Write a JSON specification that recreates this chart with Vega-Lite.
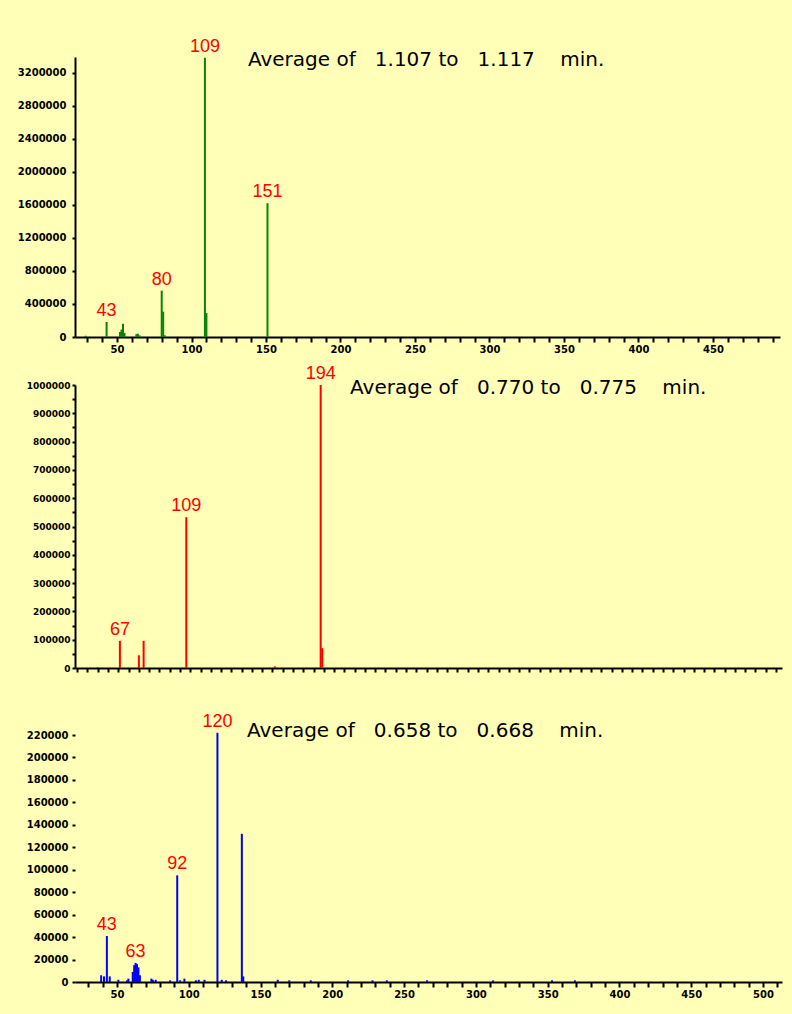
{
  "$schema": "https://vega.github.io/schema/vega-lite/v6.json",
  "background": "#FFFFB8",
  "padding": {"left": 17, "top": 37, "right": 10, "bottom": 15},
  "datasets": {
    "p1": [
      {"mz": 29, "intensity": 15000},
      {"mz": 43, "intensity": 182000, "lbl": "43"},
      {"mz": 52, "intensity": 60000},
      {"mz": 53, "intensity": 90000},
      {"mz": 54, "intensity": 160000},
      {"mz": 55, "intensity": 50000},
      {"mz": 63, "intensity": 35000},
      {"mz": 64, "intensity": 40000},
      {"mz": 65, "intensity": 20000},
      {"mz": 80, "intensity": 561000, "lbl": "80"},
      {"mz": 81, "intensity": 307000},
      {"mz": 82, "intensity": 20000},
      {"mz": 109, "intensity": 3380000, "lbl": "109"},
      {"mz": 110, "intensity": 290000},
      {"mz": 151, "intensity": 1620000, "lbl": "151"}
    ],
    "n1": [{"mz": 137.9, "intensity": 3357000, "text": "Average of \u00a0\u00a01.107 to \u00a0\u00a01.117 \u00a0\u00a0\u00a0min."}],
    "p2": [
      {"mz": 53, "intensity": 3000},
      {"mz": 67, "intensity": 96000, "lbl": "67"},
      {"mz": 79, "intensity": 45000},
      {"mz": 82, "intensity": 96000},
      {"mz": 109, "intensity": 533000, "lbl": "109"},
      {"mz": 165, "intensity": 6000},
      {"mz": 194, "intensity": 1000000, "lbl": "194"},
      {"mz": 195, "intensity": 70000}
    ],
    "n2": [{"mz": 212.6, "intensity": 989000, "text": "Average of \u00a0\u00a00.770 to \u00a0\u00a00.775 \u00a0\u00a0\u00a0min."}],
    "p3": [
      {"mz": 39, "intensity": 6000},
      {"mz": 41, "intensity": 5000},
      {"mz": 43, "intensity": 41000, "lbl": "43"},
      {"mz": 45, "intensity": 5000},
      {"mz": 51, "intensity": 2000},
      {"mz": 57, "intensity": 1500},
      {"mz": 58, "intensity": 3000},
      {"mz": 61, "intensity": 9000},
      {"mz": 62, "intensity": 15000},
      {"mz": 63, "intensity": 17000, "lbl": "63"},
      {"mz": 64, "intensity": 16000},
      {"mz": 65, "intensity": 13000},
      {"mz": 66, "intensity": 6000},
      {"mz": 74, "intensity": 3000},
      {"mz": 75, "intensity": 2000},
      {"mz": 77, "intensity": 2000},
      {"mz": 87, "intensity": 1500},
      {"mz": 92, "intensity": 95000, "lbl": "92"},
      {"mz": 94, "intensity": 1500},
      {"mz": 97, "intensity": 3000},
      {"mz": 105, "intensity": 1500},
      {"mz": 107, "intensity": 2000},
      {"mz": 111, "intensity": 2000},
      {"mz": 120, "intensity": 222000, "lbl": "120"},
      {"mz": 123, "intensity": 2000},
      {"mz": 126, "intensity": 1500},
      {"mz": 137, "intensity": 132000},
      {"mz": 138, "intensity": 5000},
      {"mz": 162, "intensity": 2000},
      {"mz": 170, "intensity": 1500},
      {"mz": 185, "intensity": 1500},
      {"mz": 211, "intensity": 1500},
      {"mz": 228, "intensity": 1500},
      {"mz": 238, "intensity": 1500},
      {"mz": 266, "intensity": 1500},
      {"mz": 312, "intensity": 1500},
      {"mz": 353, "intensity": 1500},
      {"mz": 369, "intensity": 1500}
    ],
    "n3": [{"mz": 140.6, "intensity": 223600, "text": "Average of \u00a0\u00a00.658 to \u00a0\u00a00.668 \u00a0\u00a0\u00a0min."}]
  },
  "vconcat": [
    {
      "width": 705,
      "height": 280,
      "encoding": {
        "x": {"field": "mz", "type": "quantitative",
          "scale": {"domain": [21.8, 495], "nice": false, "zero": false},
          "axis": {"title": null, "values": [30,40,50,60,70,80,90,100,110,120,130,140,150,160,170,180,190,200,210,220,230,240,250,260,270,280,290,300,310,320,330,340,350,360,370,380,390,400,410,420,430,440,450,460,470,480,490],
            "labelExpr": "datum.value % 50 === 0 ? datum.label : ''", "format": "d", "tickSize": 5, "labelPadding": 2, "labelFontSize": 10, "labelOverlap": false, "labelFlush": false}},
        "y": {"field": "intensity", "type": "quantitative",
          "scale": {"domain": [0, 3390000], "nice": false, "zero": true},
          "axis": {"title": null, "values": [0,400000,800000,1200000,1600000,2000000,2400000,2800000,3200000], "format": "d", "tickSize": 3, "labelPadding": 6, "labelFontSize": 10, "labelOverlap": false}}
      },
      "layer": [
        {
          "data": {"name": "p1"},
          "mark": {"type": "rule", "color": "#0A820A", "strokeWidth": 2},
          "encoding": {"y2": {"datum": 0}}
        },
        {
          "data": {"name": "p1"},
          "transform": [{"filter": {"field": "lbl", "valid": true}}],
          "mark": {"type": "text", "color": "#FF0000", "font": "Liberation Sans", "fontSize": 18, "baseline": "bottom", "dy": -2},
          "encoding": {"text": {"field": "lbl"}}
        },
        {
          "data": {"name": "n1"},
          "mark": {"type": "text", "color": "#000000", "font": "DejaVu Sans", "fontSize": 20, "align": "left", "baseline": "middle"},
          "encoding": {"text": {"field": "text"}}
        }
      ]
    },
    {
      "width": 707,
      "height": 283,
      "encoding": {
        "x": {"field": "mz", "type": "quantitative",
          "scale": {"domain": [38.6, 485.8], "nice": false, "zero": false},
          "axis": {"title": null, "labels": false, "tickSize": 4, "values": [40,46.5,53,59.5,66,72.5,79,85.5,92,98.5,105,111.5,118,124.5,131,137.5,144,150.5,157,163.5,170,176.5,183,189.5,196,202.5,209,215.5,222,228.5,235,241.5,248,254.5,261,267.5,274,280.5,287,293.5,300,306.5,313,319.5,326,332.5,339,345.5,352,358.5,365,371.5,378,384.5,391,397.5,404,410.5,417,423.5,430,436.5,443,449.5,456,462.5,469,475.5,482]}},
        "y": {"field": "intensity", "type": "quantitative",
          "scale": {"domain": [0, 1000000], "nice": false, "zero": true},
          "axis": {"title": null, "values": [0,50000,100000,150000,200000,250000,300000,350000,400000,450000,500000,550000,600000,650000,700000,750000,800000,850000,900000,950000,1000000],
            "labelExpr": "datum.value % 100000 === 0 ? datum.label : ''", "format": "d", "tickSize": 3, "labelPadding": 2, "labelFontSize": 9, "labelOverlap": false}}
      },
      "layer": [
        {
          "data": {"name": "p2"},
          "mark": {"type": "rule", "color": "#FF0000", "strokeWidth": 2},
          "encoding": {"y2": {"datum": 0}}
        },
        {
          "data": {"name": "p2"},
          "transform": [{"filter": {"field": "lbl", "valid": true}}],
          "mark": {"type": "text", "color": "#FF0000", "font": "Liberation Sans", "fontSize": 18, "baseline": "bottom", "dy": -2},
          "encoding": {"text": {"field": "lbl"}}
        },
        {
          "data": {"name": "n2"},
          "mark": {"type": "text", "color": "#000000", "font": "DejaVu Sans", "fontSize": 20, "align": "left", "baseline": "middle"},
          "encoding": {"text": {"field": "text"}}
        }
      ]
    },
    {
      "width": 707,
      "height": 266,
      "encoding": {
        "x": {"field": "mz", "type": "quantitative",
          "scale": {"domain": [20.8, 513.2], "nice": false, "zero": false},
          "axis": {"title": null, "values": [30,40,50,60,70,80,90,100,110,120,130,140,150,160,170,180,190,200,210,220,230,240,250,260,270,280,290,300,310,320,330,340,350,360,370,380,390,400,410,420,430,440,450,460,470,480,490,500,510],
            "labelExpr": "datum.value % 50 === 0 ? datum.label : ''", "format": "d", "tickSize": 5, "labelPadding": 2, "labelFontSize": 10, "labelOverlap": false, "labelFlush": false}},
        "y": {"field": "intensity", "type": "quantitative",
          "scale": {"domain": [0, 236950], "nice": false, "zero": true},
          "axis": {"title": null, "domain": false, "values": [0,20000,40000,60000,80000,100000,120000,140000,160000,180000,200000,220000], "format": "d", "tickSize": 3, "labelPadding": 4, "labelFontSize": 10, "labelOverlap": false}}
      },
      "layer": [
        {
          "data": {"name": "p3"},
          "mark": {"type": "rule", "color": "#0000FF", "strokeWidth": 2},
          "encoding": {"y2": {"datum": 0}}
        },
        {
          "data": {"values": [{}]},
          "mark": {"type": "rule", "color": "#000000", "strokeWidth": 2},
          "encoding": {
            "x": {"datum": 20.8, "type": "quantitative"},
            "y": {"datum": 0, "type": "quantitative"},
            "y2": {"datum": 222700}
          }
        },
        {
          "data": {"name": "p3"},
          "transform": [{"filter": {"field": "lbl", "valid": true}}],
          "mark": {"type": "text", "color": "#FF0000", "font": "Liberation Sans", "fontSize": 18, "baseline": "bottom", "dy": -2},
          "encoding": {"text": {"field": "lbl"}}
        },
        {
          "data": {"name": "n3"},
          "mark": {"type": "text", "color": "#000000", "font": "DejaVu Sans", "fontSize": 20, "align": "left", "baseline": "middle"},
          "encoding": {"text": {"field": "text"}}
        }
      ]
    }
  ],
  "spacing": 48,
  "bounds": "flush",
  "config": {
    "view": {"stroke": null},
    "axis": {"grid": false, "labelOverlap": false, "labelSeparation": 0, "domainColor": "#000000", "domainWidth": 2, "tickColor": "#000000", "tickWidth": 2, "labelColor": "#000000", "labelFont": "DejaVu Sans", "labelFontWeight": "bold"}
  }
}
